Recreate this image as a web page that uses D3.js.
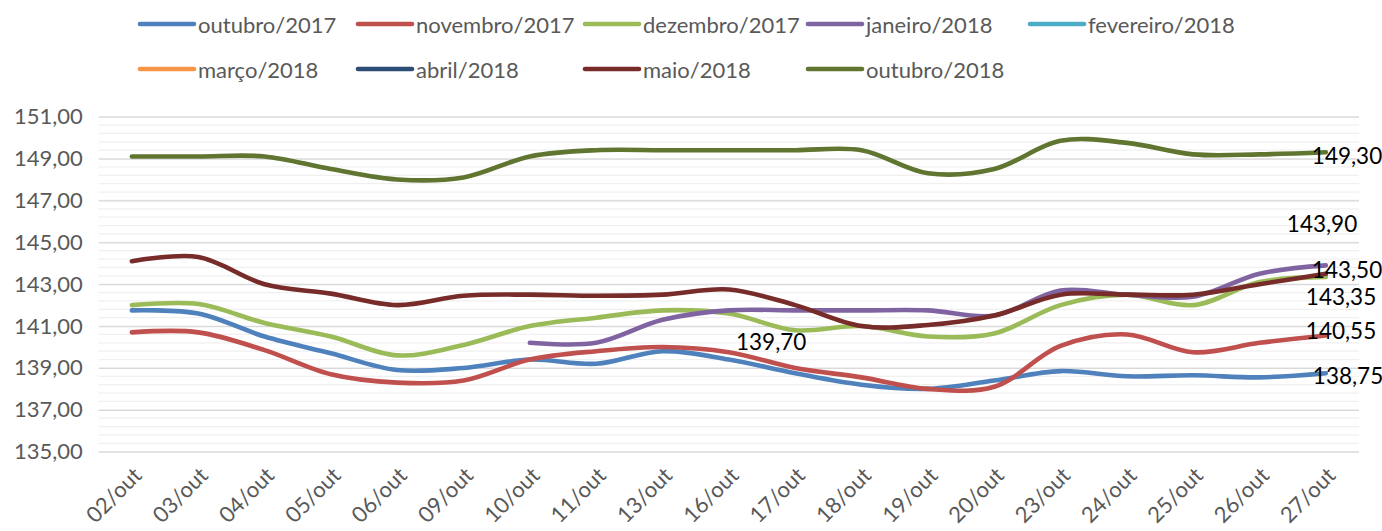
<!DOCTYPE html>
<html lang="pt">
<head>
    <meta charset="UTF-8">
    <title>Preços diários - outubro</title>
    <script src="https://d3js.org/d3.v7.min.js"></script>
    <style>
        body { margin: 0; background: #fff; }
        text { font-family: Lato, "Open Sans", sans-serif; }
        .tick text { fill: #595959; font-size: 22px; }
        .legend text { fill: #595959; font-size: 22px; }
        .label { fill: #000; font-size: 22.5px; }
    </style>
</head>
<body>
<svg height="531" width="1382"></svg>

<script>
    // categories (x axis)
    const days = ["02/out","03/out","04/out","05/out","06/out","09/out","10/out","11/out","13/out",
                  "16/out","17/out","18/out","19/out","20/out","23/out","24/out","25/out","26/out","27/out"];

    const yTicks = [135, 137, 139, 141, 143, 145, 147, 149, 151];

    // series values (null = no data)
    const out2017 = [141.75,141.6,140.5,139.7,138.9,139.0,139.4,139.2,139.8,139.4,138.75,138.2,138.0,138.4,138.85,138.6,138.65,138.55,138.75];
    const nov2017 = [140.7,140.7,139.85,138.7,138.3,138.4,139.4,139.8,140.0,139.75,139.0,138.55,138.0,138.1,140.05,140.6,139.75,140.2,140.55];
    const dez2017 = [142.0,142.05,141.15,140.5,139.6,140.1,141.0,141.4,141.75,141.6,140.8,141.0,140.5,140.65,142.0,142.5,142.0,143.1,143.35];
    const jan2018 = [null,null,null,null,null,null,140.2,140.2,141.3,141.75,141.75,141.75,141.75,141.5,142.7,142.5,142.4,143.5,143.9];
    const fev2018 = [];
    const mar2018 = [];
    const abr2018 = [];
    const mai2018 = [144.1,144.3,143.0,142.55,142.0,142.45,142.5,142.45,142.5,142.75,142.0,141.0,141.05,141.5,142.5,142.5,142.5,143.0,143.5];
    const out2018 = [149.1,149.1,149.1,148.5,148.0,148.1,149.1,149.4,149.4,149.4,149.4,149.4,148.3,148.5,149.85,149.75,149.2,149.2,149.3];

    const series = [
        {name: "outubro/2017",  values: out2017, color: "#4f81bd"},
        {name: "novembro/2017", values: nov2017, color: "#c0504d"},
        {name: "dezembro/2017", values: dez2017, color: "#9bbb59"},
        {name: "janeiro/2018",  values: jan2018, color: "#8064a2"},
        {name: "fevereiro/2018",values: fev2018, color: "#4bacc6"},
        {name: "março/2018",    values: mar2018, color: "#f79646"},
        {name: "abril/2018",    values: abr2018, color: "#2c4d75"},
        {name: "maio/2018",     values: mai2018, color: "#772c2a"},
        {name: "outubro/2018",  values: out2018, color: "#5f7530"}
    ];

    // a stray label sitting near 17/out in the original
    const extraLabel = {day: "17/out", value: 139.70};

    const svg = d3.select("svg");
    const fmt = v => d3.format(".2f")(v).replace(".", ",");

    const plotL = 98.7, plotR = 1359, plotT = 116.7, plotB = 451.7;

    const x = d3.scaleBand().domain(days).range([plotL, plotR]);
    const xc = d => x(d) + x.bandwidth() / 2;
    const y = d3.scaleLinear().domain([135, 151]).range([plotB, plotT]);

    // minor gridlines every 0,4
    const minor = d3.range(135, 151.001, 0.4);
    svg.append("g").selectAll("line")
        .data(minor)
        .enter().append("line")
        .attr("x1", plotL).attr("x2", plotR)
        .attr("y1", d => y(d)).attr("y2", d => y(d))
        .attr("stroke", "#f0f0f0").attr("stroke-width", 1.3);

    // major gridlines
    const yAxis = svg.append("g")
        .attr("transform", `translate(${plotL},0)`)
        .call(d3.axisLeft(y).tickValues(yTicks).tickFormat(fmt)
                .tickSize(-(plotR - plotL)).tickPadding(16));
    yAxis.select(".domain").remove();
    yAxis.selectAll(".tick line").attr("stroke", "#d9d9d9").attr("stroke-width", 1.3);

    const xAxis = svg.append("g")
        .attr("transform", `translate(0,${plotB})`)
        .call(d3.axisBottom(x).tickSize(0));
    xAxis.select(".domain").remove();
    xAxis.selectAll(".tick text")
        .attr("text-anchor", "end")
        .attr("dy", "0")
        .attr("transform", "translate(9,23) rotate(-45)");

    const line = d3.line()
        .defined(d => d.v != null)
        .x(d => xc(d.day))
        .y(d => y(d.v))
        .curve(d3.curveCatmullRom.alpha(0.5));

    svg.append("g").selectAll("path")
        .data(series.filter(s => s.values.length))
        .enter().append("path")
        .attr("d", s => line(days.map((day, i) => ({day, v: s.values[i]}))))
        .attr("fill", "none")
        .attr("stroke", s => s.color)
        .attr("stroke-width", 4.6)
        .attr("stroke-linecap", "round")
        .attr("stroke-linejoin", "round");

    // end-of-line data labels (nudged like the original)
    const nudge = {
        "outubro/2017":  [-13, 2],
        "novembro/2017": [-20, -5],
        "dezembro/2017": [-20, 20],
        "janeiro/2018":  [-39, -42],
        "maio/2018":     [-14, -4],
        "outubro/2018":  [-14, 3]
    };
    const last = days[days.length - 1];
    svg.append("g").selectAll("text")
        .data(series.filter(s => s.values.length))
        .enter().append("text")
        .attr("class", "label")
        .attr("x", s => xc(last) + nudge[s.name][0])
        .attr("y", s => y(s.values[s.values.length - 1]) + nudge[s.name][1])
        .attr("dominant-baseline", "central")
        .text(s => fmt(s.values[s.values.length - 1]));

    svg.append("text")
        .attr("class", "label")
        .attr("x", xc(extraLabel.day) - 24)
        .attr("y", y(extraLabel.value) - 12)
        .attr("text-anchor", "middle")
        .attr("dominant-baseline", "central")
        .text(fmt(extraLabel.value));

    // legend
    const legendCols = [140, 358, 585, 808, 1030];
    const legend = svg.append("g").attr("class", "legend")
        .selectAll("g")
        .data(series)
        .enter().append("g")
        .attr("transform", (s, i) => `translate(${legendCols[i % 5]},${i < 5 ? 24 : 69})`);
    legend.append("line")
        .attr("x1", 0).attr("x2", 54)
        .attr("stroke", s => s.color)
        .attr("stroke-width", 4.6)
        .attr("stroke-linecap", "round");
    legend.append("text")
        .attr("x", 58)
        .attr("dominant-baseline", "central")
        .text(s => s.name);
</script>

</body>
</html>
